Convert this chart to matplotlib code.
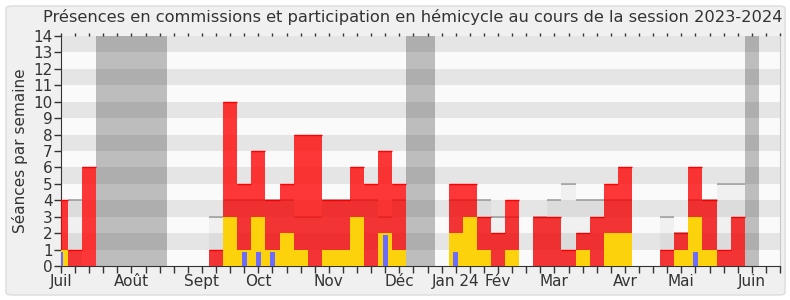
import matplotlib.pyplot as plt
import numpy as np
from matplotlib.patches import FancyBboxPatch

# one value per week, week 0 = first week of July 2023
presences = [4, 1, 6, 0, 0, 0, 0, 0, 0, 0, 0, 1, 10, 5, 7, 4, 5, 8, 8, 4, 4, 6, 5, 7, 5, 0,
             0, 0, 5, 5, 3, 2, 4, 0, 3, 3, 1, 2, 3, 5, 6, 0, 0, 1, 2, 6, 4, 1, 3, 0, 0, 0]
hemicycle = [1, 0, 0, 0, 0, 0, 0, 0, 0, 0, 0, 0, 3, 1, 3, 1, 2, 1, 0, 1, 1, 3, 0, 2, 1, 0,
             0, 0, 2, 3, 1, 0, 1, 0, 0, 0, 0, 1, 0, 2, 2, 0, 0, 0, 1, 3, 1, 0, 0, 0, 0, 0]
questions = [1, 0, 0, 0, 0, 0, 0, 0, 0, 0, 0, 0, 0, 1, 1, 1, 0, 0, 0, 0, 0, 0, 0, 2, 0, 0,
             0, 0, 1, 0, 0, 0, 0, 0, 0, 0, 0, 0, 0, 0, 0, 0, 0, 0, 0, 1, 0, 0, 0, 0, 0, 0]
mediane = [0, 4, 0, 0, 0, 0, 0, 0, 0, 0, 0, 3, 4, 4, 4, 4, 4, 3, 3, 4, 4, 4, 4, 3, 4, 0,
           0, 0, 4, 4, 4, 3, 3, 0, 3, 4, 5, 4, 4, 4, 4, 0, 0, 3, 2, 4, 4, 5, 5, 0, 0, 0]
vacances = [(3, 7), (25, 26), (49, 49)]
mois_semaine = [0, 5, 10, 14, 19, 24, 28, 31, 35, 40, 44, 49]
mois_labels = ["Juil", "Août", "Sept", "Oct", "Nov", "Déc", "Jan 24", "Fév", "Mar", "Avr", "Mai", "Juin"]

weeks = np.arange(len(presences))
presences = np.array(presences)
hemicycle = np.array(hemicycle)
questions = np.array(questions)
mediane = np.array(mediane)

txt = "#333333"
fig = plt.figure(figsize=(7.9, 3.0), dpi=100, facecolor="white")
fig.patches.append(FancyBboxPatch((6 / 790, 5 / 300), 779 / 790, 289 / 300,
                                  boxstyle="round,pad=0,rounding_size=0.008",
                                  transform=fig.transFigure, facecolor="#f0f0f0",
                                  edgecolor="#dcdcdc", lw=1, zorder=-10))
ax = fig.add_axes([61 / 790, 34 / 300, 719 / 790, 230 / 300])
ax.set_facecolor("#fafafa")

# stripes
for y in range(14):
    if y % 2 == 1:
        ax.axhspan(y, y + 1, color="#e5e5e5", lw=0, zorder=0)

# vacation bands
for s, e in vacances:
    ax.axvspan(s - 0.5, e + 0.5, color="#282828", alpha=0.29, lw=0, zorder=1)

# median line (mostly hidden by the red bars)
m = mediane > 0
ax.hlines(mediane[m], weeks[m] - 0.5, weeks[m] + 0.5, color="#a8a8a8", lw=1.3, zorder=2)

# presences
p = presences > 0
ax.bar(weeks[p], presences[p], width=1, color=(1, 0, 0, 0.78), lw=0, zorder=3)
ax.hlines(presences[p], weeks[p] - 0.5, weeks[p] + 0.5, color="red", lw=1, zorder=3)

# median fill
ax.bar(weeks[m], mediane[m], width=1, color=(0, 0, 0, 0.04), lw=0, zorder=4)

# hemicycle
h = hemicycle > 0
ax.bar(weeks[h], hemicycle[h], width=1, color="#fcd20c", lw=0, zorder=5)

# questions
q = questions > 0
ax.bar(weeks[q], questions[q] - 0.12, width=0.35, color="#6b6bff", lw=0, zorder=6)

ax.set_xlim(0, 51)
ax.set_ylim(0, 14)
ax.set_yticks(range(15))
ax.set_xticks(weeks)
labels = [""] * len(weeks)
for w, l in zip(mois_semaine, mois_labels):
    labels[w] = l
ax.set_xticklabels(labels)
ax.tick_params(axis="x", length=5, width=1, color=txt, labelsize=11, labelcolor=txt, pad=1)
ax.tick_params(axis="y", length=5, width=1, color=txt, labelsize=11, labelcolor=txt, pad=1)

top = ax.secondary_xaxis("top")
top.set_xticks(weeks)
top.set_xticklabels([])
top.tick_params(length=2, width=1, color=txt)
top.spines["top"].set_visible(False)

ax.spines["top"].set_visible(False)
ax.spines["right"].set_color("#c8c8c8")
ax.spines["left"].set_color(txt)
ax.spines["bottom"].set_color(txt)

ax.set_ylabel("Séances par semaine", fontsize=11, color=txt, labelpad=4)
fig.text(413 / 790, 1 - 17 / 300, "Présences en commissions et participation en hémicycle au cours de la session 2023-2024",
         ha="center", va="center", fontsize=11.7, color=txt)

fig.savefig("out.png", dpi=100, facecolor="white")
